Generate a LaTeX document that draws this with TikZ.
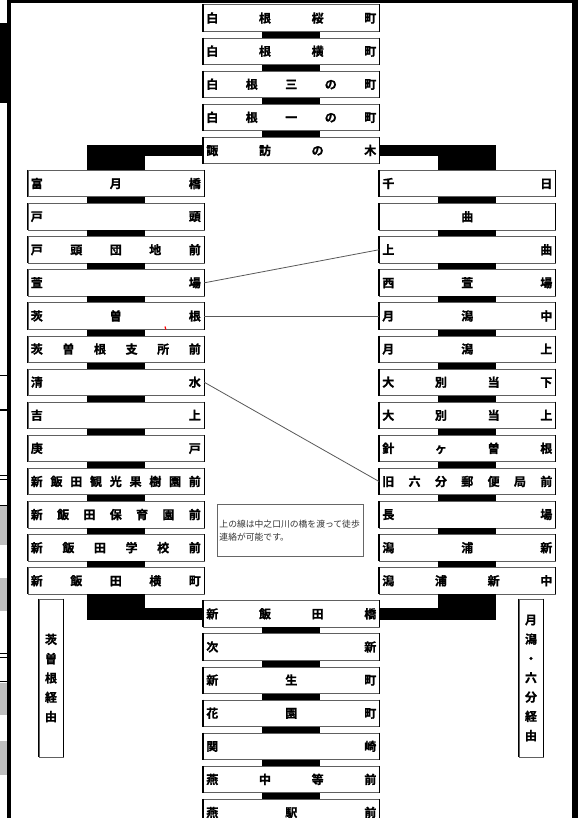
\documentclass[tikz,border=0pt]{standalone}
\usepackage{fontspec}
\newfontfamily\jpb{Noto Sans CJK JP Bold}[FakeBold=1.2]
\newfontfamily\jp{Noto Sans CJK JP}
\usetikzlibrary{calc}
\tikzset{
 stbox/.style={draw=gray!75!black, line width=0.6pt, fill=white, minimum width=176pt, minimum height=26.5pt, inner sep=0pt, anchor=north west, font=\jpb\fontsize{12}{12}\selectfont},
 sidel/.style={line width=1.1pt, black},
 link/.style={draw=black!65, line width=0.8pt},
 conn/.style={fill=black},
 lblbox/.style={draw=gray!75!black, line width=0.6pt, fill=white, minimum width=24pt, minimum height=158pt, inner sep=0pt, align=center, font=\jpb\fontsize{12}{19.3}\selectfont},
 notebox/.style={draw=black!60, line width=0.9pt, fill=white, anchor=north west, minimum width=146pt, minimum height=52pt, inner sep=0pt, font=\jp\fontsize{8.8}{13}\selectfont, text=black!80},
 artline/.style={line width=0.9pt, black},
 artgray/.style={fill=black!25},
}
\newcommand\stn[4]{%
 \node[stbox] (#1) at (#2,{4.5+33.1*#3}) {\makebox[170pt]{#4}};
 \draw[sidel] (#1.north west) -- (#1.south west) (#1.north east) -- (#1.south east);}
\newcommand\vcon[2]{\fill[conn] ($(#1.south)+(-29,0)$) rectangle ($(#2.north)+(29,0)$);}
\begin{document}
\begin{tikzpicture}[x=1pt,y=-1pt]
\useasboundingbox (0,0) rectangle (578,818);
\fill[white] (0,0) rectangle (578,818);
% frame / screenshot artefacts
\fill[black] (7.3,0) rectangle (578,2.7);
\fill[black] (7.3,0) rectangle (11,818);
\fill[black] (572,0) rectangle (578,818);
\fill[black] (0,23) rectangle (7.3,103);
\draw[artline] (0,375) -- (7.3,375);
\draw[artline, line width=2.4pt] (0,410) -- (7.3,410);
\draw[artline] (0,475) -- (7.3,475) (0,479) -- (7.3,479);
\draw[artline] (0,505) -- (7.3,505);
\fill[artgray] (0,506) rectangle (7.3,545);
\fill[artgray] (0,578) rectangle (7.3,611);
\draw[artline] (0,653) -- (7.3,653) (0,657) -- (7.3,657);
\draw[artline] (0,681) -- (7.3,681);
\fill[artgray] (0,683) rectangle (7.3,715);
\fill[artgray] (0,741) rectangle (7.3,775);
% centre top
\stn{c0}{203}{0}{白\hfill 根\hfill 桜\hfill 町}
\stn{c1}{203}{1}{白\hfill 根\hfill 横\hfill 町}
\stn{c2}{203}{2}{白\hfill 根\hfill 三\hfill の\hfill 町}
\stn{c3}{203}{3}{白\hfill 根\hfill 一\hfill の\hfill 町}
\stn{c4}{203}{4}{諏\hfill 訪\hfill の\hfill 木}
% left column
\stn{l5}{27.5}{5}{富\hfill 月\hfill 橋}
\stn{l6}{27.5}{6}{戸\hfill 頭}
\stn{l7}{27.5}{7}{戸\hfill 頭\hfill 団\hfill 地\hfill 前}
\stn{l8}{27.5}{8}{萱\hfill 場}
\stn{l9}{27.5}{9}{茨\hfill 曽\hfill 根}
\stn{l10}{27.5}{10}{茨\hfill 曽\hfill 根\hfill 支\hfill 所\hfill 前}
\stn{l11}{27.5}{11}{清\hfill 水}
\stn{l12}{27.5}{12}{吉\hfill 上}
\stn{l13}{27.5}{13}{庚\hfill 戸}
\stn{l14}{27.5}{14}{新\hfill 飯\hfill 田\hfill 観\hfill 光\hfill 果\hfill 樹\hfill 園\hfill 前}
\stn{l15}{27.5}{15}{新\hfill 飯\hfill 田\hfill 保\hfill 育\hfill 園\hfill 前}
\stn{l16}{27.5}{16}{新\hfill 飯\hfill 田\hfill 学\hfill 校\hfill 前}
\stn{l17}{27.5}{17}{新\hfill 飯\hfill 田\hfill 横\hfill 町}
% right column
\stn{r5}{379}{5}{千\hfill 日}
\stn{r6}{379}{6}{\hfill 曲\hfill}
\stn{r7}{379}{7}{上\hfill 曲}
\stn{r8}{379}{8}{西\hfill 萱\hfill 場}
\stn{r9}{379}{9}{月\hfill 潟\hfill 中}
\stn{r10}{379}{10}{月\hfill 潟\hfill 上}
\stn{r11}{379}{11}{大\hfill 別\hfill 当\hfill 下}
\stn{r12}{379}{12}{大\hfill 別\hfill 当\hfill 上}
\stn{r13}{379}{13}{針\hfill ヶ\hfill 曽\hfill 根}
\stn{r14}{379}{14}{旧\hfill 六\hfill 分\hfill 郵\hfill 便\hfill 局\hfill 前}
\stn{r15}{379}{15}{長\hfill 場}
\stn{r16}{379}{16}{潟\hfill 浦\hfill 新}
\stn{r17}{379}{17}{潟\hfill 浦\hfill 新\hfill 中}
% centre bottom
\stn{c18}{203}{18}{新\hfill 飯\hfill 田\hfill 橋}
\stn{c19}{203}{19}{次\hfill 新}
\stn{c20}{203}{20}{新\hfill 生\hfill 町}
\stn{c21}{203}{21}{花\hfill 園\hfill 町}
\stn{c22}{203}{22}{関\hfill 崎}
\stn{c23}{203}{23}{燕\hfill 中\hfill 等\hfill 前}
\stn{c24}{203}{24}{燕\hfill 駅\hfill 前}
% vertical connectors
\vcon{c0}{c1}\vcon{c1}{c2}\vcon{c2}{c3}\vcon{c3}{c4}
\foreach \a/\b in {5/6,6/7,7/8,8/9,9/10,10/11,11/12,12/13,13/14,14/15,15/16,16/17}{
 \vcon{l\a}{l\b}\vcon{r\a}{r\b}}
\foreach \a/\b in {18/19,19/20,20/21,21/22,22/23,23/24}{\vcon{c\a}{c\b}}
% branch connectors (top)
\fill[conn] ($(l5.north)+(-29,0)$) rectangle ($(l5.north |- c4.west)+(29,-5.75)$);
\fill[conn] ($(l5.north |- c4.west)+(-29,-5.75)$) rectangle ($(c4.west)+(0,5.75)$);
\fill[conn] ($(r5.north)+(29,0)$) rectangle ($(r5.north |- c4.east)+(-29,-5.75)$);
\fill[conn] ($(r5.north |- c4.east)+(29,-5.75)$) rectangle ($(c4.east)+(0,5.75)$);
% branch connectors (bottom)
\fill[conn] ($(l17.south)+(-29,0)$) rectangle ($(l17.south |- c18.west)+(29,5.75)$);
\fill[conn] ($(l17.south |- c18.west)+(-29,-5.75)$) rectangle ($(c18.west)+(0,5.75)$);
\fill[conn] ($(r17.south)+(29,0)$) rectangle ($(r17.south |- c18.east)+(-29,5.75)$);
\fill[conn] ($(r17.south |- c18.east)+(29,-5.75)$) rectangle ($(c18.east)+(0,5.75)$);
% walking links
\draw[link] (l8.east) -- (r7.west);
\draw[link] (l9.east) -- (r9.west);
\draw[link] (l11.east) -- (r14.west);
\draw[red, line width=1.2pt] (165,326.5) -- (165.8,329.5);
% note
\node[notebox] (note) at (217,504) {\parbox{142pt}{上の線は中之口川の橋を渡って徒歩\\連絡が可能です。}};
% route labels
\node[lblbox] (lv) at (51,678) {茨\\曽\\根\\経\\由};
\draw[sidel] (lv.north west) -- (lv.south west) (lv.north east) -- (lv.south east);
\node[lblbox] (rv) at (531,678) {月\\潟\\・\\六\\分\\経\\由};
\draw[sidel] (rv.north west) -- (rv.south west) (rv.north east) -- (rv.south east);
\end{tikzpicture}
\end{document}
